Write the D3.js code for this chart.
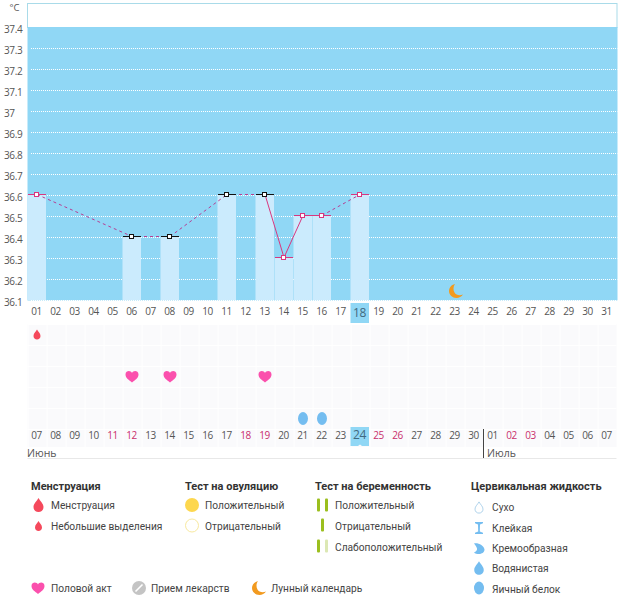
<!DOCTYPE html>
<html>
<head>
<meta charset="utf-8">
<script src="https://cdn.jsdelivr.net/npm/d3@7"></script>
<style>
    html, body { margin: 0; padding: 0; background: #fff; }
    svg { display: block; }
    .axis path, .axis line { display: none; }
    .axis text { font-family: 'Open Sans', sans-serif; font-size: 10px; letter-spacing: -0.35px; fill: #555; }
    .legend text { font-family: Roboto, sans-serif; font-size: 10.2px; fill: #444; }
    .legend text.head { font-weight: 700; font-size: 11px; fill: #333; }
</style>
</head>
<body>
<div id="chart"></div>
<script>
// chart data
var days = ['01','02','03','04','05','06','07','08','09','10','11','12','13','14','15','16','17','18','19','20','21','22','23','24','25','26','27','28','29','30','31'];
var lowerDays = ['07','08','09','10','11','12','13','14','15','16','17','18','19','20','21','22','23','24','25','26','27','28','29','30','01','02','03','04','05','06','07'];
var redLowerIdx = [4, 5, 11, 12, 18, 19, 25, 26];
var tempTicks = [37.4, 37.3, 37.2, 37.1, 37, 36.9, 36.8, 36.7, 36.6, 36.5, 36.4, 36.3, 36.2, 36.1];

var tempDays = ['01','06','08','11','13','14','15','16','18'];
var tempValues = [36.6, 36.4, 36.4, 36.6, 36.6, 36.3, 36.5, 36.5, 36.6];
var blackDays = ['06','08','11','13'];

var todayUpper = '18';
var moonDays = ['23'];
var spottingDays = ['01'];
var sexDays = ['06','08','13'];
var eggDays = ['15','16'];

var legendHeads = ['Менструация', 'Тест на овуляцию', 'Тест на беременность', 'Цервикальная жидкость'];
var legendMens = ['Менструация', 'Небольшие выделения'];
var legendOvul = ['Положительный', 'Отрицательный'];
var legendPreg = ['Положительный', 'Отрицательный', 'Слабоположительный'];
var legendFluid = ['Сухо', 'Клейкая', 'Кремообразная', 'Водянистая', 'Яичный белок'];
var legendBottom = ['Половой акт', 'Прием лекарств', 'Лунный календарь'];

var pink = '#d8377f';

// glyph shapes, centred on 0,0
var heartPath = 'M0,6 C-3,3.5 -6.5,1.5 -6.5,-2 C-6.5,-4.6 -4.6,-5.5 -3.2,-5.5 C-1.8,-5.5 -0.6,-4.8 0,-3.6 C0.6,-4.8 1.8,-5.5 3.2,-5.5 C4.6,-5.5 6.5,-4.6 6.5,-2 C6.5,1.5 3,3.5 0,6 Z';
var dropPath = 'M0,-7 C1.5,-4 5,-1.5 5,2 C5,5 2.8,7 0,7 C-2.8,7 -5,5 -5,2 C-5,-1.5 -1.5,-4 0,-7 Z';
var moonPath = 'M-1,-7 C-5,-6 -7,-3 -7,0 C-7,4 -3.5,7 0.5,7 C3,7 5.5,5.5 7,3.5 C3.5,5 0,4 -1.5,1.5 C-3,-1 -2.8,-4.5 -1,-7 Z';
var hourglassPath = 'M-4,-6 L4,-6 L4,-4.8 L1,-3.5 L0.8,3.5 L4,4.8 L4,6 L-4,6 L-4,4.8 L-0.8,3.5 L-1,-3.5 L-4,-4.8 Z';
var creamPath = 'M-5,-5 C-1,-6 5,-3 5.5,1 C5.5,4 2.5,5.5 0,5.5 C-2,5.5 -4,5 -5,4 C-3,3 -1.5,1.5 -2,0 C-2.5,-2 -4,-4 -5,-5 Z';

var width = 626, height = 595;

var svg = d3.select('#chart').append('svg')
    .attr('width', width)
    .attr('height', height);

var x = d3.scaleBand().domain(days).range([27.5, 616.5]);
var y = d3.scaleLinear().domain([36.1, 37.4]).range([300, 27]);
var plotTop = 3;
var xc = function(d) { return x(d) + x.bandwidth() / 2; };

// lower grid first, it sits behind labels
var lowerTop = 324, lowerBottom = 447;
var rows = d3.scaleBand().domain(['mens', 'b', 'sex', 'c', 'fluid', 'labels']).range([lowerTop, lowerTop + 126]);
var rowY = function(r) { return rows(r) + rows.bandwidth() / 2; };

var lower = svg.append('g');
lower.append('rect')
    .attr('x', x.range()[0])
    .attr('y', lowerTop)
    .attr('width', x.range()[1] - x.range()[0])
    .attr('height', lowerBottom - lowerTop)
    .attr('fill', '#fafafc');
lower.selectAll('line.v').data(days).enter().append('line')
    .attr('class', 'v')
    .attr('x1', function(d) { return x(d) + 0.5; })
    .attr('x2', function(d) { return x(d) + 0.5; })
    .attr('y1', lowerTop)
    .attr('y2', lowerBottom)
    .attr('stroke', '#fff');
lower.selectAll('line.h').data(rows.domain()).enter().append('line')
    .attr('class', 'h')
    .attr('x1', x.range()[0])
    .attr('x2', x.range()[1])
    .attr('y1', function(d) { return Math.round(rows(d)) + 0.5; })
    .attr('y2', function(d) { return Math.round(rows(d)) + 0.5; })
    .attr('stroke', '#fff');

// upper plot
svg.append('rect')
    .attr('x', x.range()[0])
    .attr('y', plotTop + 0.5)
    .attr('width', x.range()[1] - x.range()[0] + 0.5)
    .attr('height', y(37.4) - plotTop)
    .attr('fill', '#fff')
    .attr('stroke', '#a9dbe9');
svg.append('rect')
    .attr('x', x.range()[0])
    .attr('y', y(37.4))
    .attr('width', x.range()[1] - x.range()[0] + 1)
    .attr('height', y(36.1) - y(37.4) + 0.5)
    .attr('fill', '#90d7f5');

svg.selectAll('line.grid').data(tempTicks.slice(1)).enter().append('line')
    .attr('class', 'grid')
    .attr('x1', 31)
    .attr('x2', x.range()[1] + 1)
    .attr('y1', function(d) { return Math.round(y(d)) + 0.5; })
    .attr('y2', function(d) { return Math.round(y(d)) + 0.5; })
    .attr('stroke', '#fff')
    .attr('stroke-width', 1)
    .attr('stroke-dasharray', '1,1');

var points = tempDays.map(function(d, i) { return { day: d, value: tempValues[i] }; });

svg.selectAll('rect.bar').data(points).enter().append('rect')
    .attr('class', 'bar')
    .attr('x', function(d) { return x(d.day); })
    .attr('y', function(d) { return y(d.value); })
    .attr('width', x.bandwidth() - 0.5)
    .attr('height', function(d) { return y(36.1) - y(d.value); })
    .attr('fill', '#cbebfd')
    .attr('stroke', 'none');

// segments between measured days, dashed when days were skipped
var segments = d3.pairs(points);
svg.selectAll('line.seg').data(segments).enter().append('line')
    .attr('class', 'seg')
    .attr('x1', function(d) { return xc(d[0].day); })
    .attr('y1', function(d) { return y(d[0].value) - 0.5; })
    .attr('x2', function(d) { return xc(d[1].day); })
    .attr('y2', function(d) { return y(d[1].value) - 0.5; })
    .attr('stroke', function(d) { return adjacent(d) ? pink : '#b63f94'; })
    .attr('stroke-width', 1)
    .attr('stroke-dasharray', function(d) { return adjacent(d) ? null : '3,3'; });

function adjacent(d) {
    return days.indexOf(d[1].day) - days.indexOf(d[0].day) === 1;
}
function markColor(d) {
    return blackDays.indexOf(d.day) >= 0 ? '#111' : pink;
}

svg.selectAll('line.cap').data(points).enter().append('line')
    .attr('class', 'cap')
    .attr('x1', function(d) { return x(d.day); })
    .attr('x2', function(d) { return x(d.day) + x.bandwidth() - 0.5; })
    .attr('y1', function(d) { return Math.round(y(d.value)) - 0.5; })
    .attr('y2', function(d) { return Math.round(y(d.value)) - 0.5; })
    .attr('shape-rendering', 'crispEdges')
    .attr('stroke', markColor);

svg.selectAll('rect.mark').data(points).enter().append('rect')
    .attr('class', 'mark')
    .attr('x', function(d) { return Math.round(xc(d.day)) - 2.5; })
    .attr('y', function(d) { return Math.round(y(d.value)) - 2.5; })
    .attr('width', 4)
    .attr('height', 4)
    .attr('fill', '#fff')
    .attr('shape-rendering', 'crispEdges')
    .attr('stroke', markColor);

// moon sits just above the baseline
svg.selectAll('path.moon').data(moonDays).enter().append('path')
    .attr('class', 'moon')
    .attr('d', moonPath)
    .attr('fill', '#f29a1f')
    .attr('transform', function(d) { return 'translate(' + (xc(d) + 1) + ',' + (y(36.1) - 9) + ')'; });

// today highlights
svg.append('rect')
    .attr('x', x(todayUpper))
    .attr('y', 303)
    .attr('width', x.bandwidth() - 0.5)
    .attr('height', 20)
    .attr('fill', '#90d7f5');
svg.append('rect')
    .attr('x', x(todayUpper))
    .attr('y', 427)
    .attr('width', x.bandwidth() - 0.5)
    .attr('height', 19)
    .attr('fill', '#90d7f5');
svg.append('path')
    .attr('d', d3.line()([[xc(todayUpper) - 2, 446], [xc(todayUpper), 444.5], [xc(todayUpper) + 2, 446]]))
    .attr('fill', '#fafafc');

// axes
var yAxis = d3.axisLeft(y).tickValues(tempTicks).tickSize(0).tickFormat(function(d) { return String(d); });
svg.append('g').attr('class', 'axis y-axis')
    .call(yAxis)
    .selectAll('text')
    .attr('text-anchor', 'start')
    .attr('x', 4)
    .attr('dy', '0.55em');

svg.append('text')
    .attr('x', 9.5)
    .attr('y', 10.5)
    .attr('font-family', "'Open Sans', sans-serif")
    .attr('font-size', 9.5)
    .attr('fill', '#555')
    .text('°C');

var upperAxis = d3.axisBottom(x).tickSize(0).tickFormat(function(d) { return d; });
svg.append('g').attr('class', 'axis upper-axis')
    .attr('transform', 'translate(0,306)')
    .call(upperAxis)
    .selectAll('text')
    .attr('y', 2)
    .attr('dx', -0.5)
    .style('font-size', function(d) { return d === todayUpper ? '12px' : null; })
    .style('fill', function(d) { return d === todayUpper ? '#41697f' : null; });

var lowerAxis = d3.axisBottom(x).tickSize(0).tickFormat(function(d, i) { return lowerDays[i]; });
svg.append('g').attr('class', 'axis lower-axis')
    .attr('transform', 'translate(0,430)')
    .call(lowerAxis)
    .selectAll('text')
    .attr('y', function(d) { return d === todayUpper ? 0 : 2; })
    .attr('dx', -0.5)
    .style('font-size', function(d) { return d === todayUpper ? '12px' : null; })
    .style('fill', function(d, i) {
        if (d === todayUpper) return '#41697f';
        return redLowerIdx.indexOf(i) >= 0 ? '#c92f6c' : null;
    });

// month labels
var monthLine = svg.append('g');
monthLine.append('line')
    .attr('x1', x.range()[0])
    .attr('x2', x.range()[1])
    .attr('y1', 458.5)
    .attr('y2', 458.5)
    .attr('stroke', '#e8e8e8');
monthLine.append('line')
    .attr('x1', x('25'))
    .attr('x2', x('25'))
    .attr('y1', 429)
    .attr('y2', 458)
    .attr('stroke', '#444');
monthLine.selectAll('text').data([['Июнь', x('01') - 0.5], ['Июль', x('25') + 3.5]]).enter().append('text')
    .attr('x', function(d) { return d[1]; })
    .attr('y', 457)
    .attr('font-family', "'Open Sans', sans-serif")
    .attr('font-size', 10.5)
    .attr('fill', '#555')
    .text(function(d) { return d[0]; });

// event rows
svg.selectAll('path.spot').data(spottingDays).enter().append('path')
    .attr('class', 'spot')
    .attr('d', dropPath)
    .attr('fill', '#f5495c')
    .attr('transform', function(d) { return 'translate(' + (xc(d)) + ',' + rowY('mens') + ') scale(0.7)'; });
svg.selectAll('path.sex').data(sexDays).enter().append('path')
    .attr('class', 'sex')
    .attr('d', heartPath)
    .attr('fill', '#fb50ad')
    .attr('transform', function(d) { return 'translate(' + xc(d) + ',' + rowY('sex') + ')'; });
svg.selectAll('ellipse.egg').data(eggDays).enter().append('ellipse')
    .attr('class', 'egg')
    .attr('cx', function(d) { return xc(d); })
    .attr('cy', rowY('fluid'))
    .attr('rx', 5)
    .attr('ry', 6.5)
    .attr('fill', '#74bdf0');

// legend
var legend = svg.append('g').attr('class', 'legend');
var headX = [31, 185, 315, 471];
legend.selectAll('text.head').data(legendHeads).enter().append('text')
    .attr('class', 'head')
    .attr('x', function(d, i) { return headX[i]; })
    .attr('y', 490)
    .text(function(d) { return d; });

function legendText(labels, tx, ys) {
    legend.selectAll(null).data(labels).enter().append('text')
        .attr('x', tx)
        .attr('y', function(d, i) { return ys[i] + 4; })
        .text(function(d) { return d; });
}
function icon(path, color, cx, cy, scale) {
    return legend.append('path')
        .attr('d', path)
        .attr('fill', color)
        .attr('transform', 'translate(' + cx + ',' + cy + ') scale(' + (scale || 1) + ')');
}

legendText(legendMens, 51, [505, 526]);
legendText(legendOvul, 205, [505, 526]);
legendText(legendPreg, 335, [505, 526, 547]);
legendText(legendFluid, 492, [507, 528, 548, 568, 589]);
legendText(legendBottom.slice(0, 1), 51, [588]);
legendText(legendBottom.slice(1, 2), 151, [588]);
legendText(legendBottom.slice(2, 3), 271, [588]);

icon(dropPath, '#f5495c', 38.5, 505, 1);
icon(dropPath, '#f5495c', 38.5, 526, 0.7);

legend.append('circle').attr('cx', 192).attr('cy', 505).attr('r', 7).attr('fill', '#fdd74e');
legend.append('circle').attr('cx', 192).attr('cy', 525.5).attr('r', 6.5).attr('fill', '#fff').attr('stroke', '#f8e9a0');

var pregRows = [[505, '#9bbf1e', '#9bbf1e'], [525, '#9bbf1e', null], [546, '#9bbf1e', '#dce8b4']];
pregRows.forEach(function(r, i) {
    var barX = i === 1 ? [321] : [317, 325];
    barX.forEach(function(bx, j) {
        legend.append('rect')
            .attr('x', bx)
            .attr('y', r[0] - 6.5)
            .attr('width', 3)
            .attr('height', 13)
            .attr('rx', 1)
            .attr('fill', j === 0 ? r[1] : r[2]);
    });
});

legend.append('path').attr('d', dropPath).attr('fill', '#fff').attr('stroke', '#9cc8e6')
    .attr('transform', 'translate(479,507.5) scale(0.8)');
icon(hourglassPath, '#74bdf0', 479, 528, 1);
icon(creamPath, '#74bdf0', 479, 548.5, 1);
icon(dropPath, '#74bdf0', 479, 568, 0.95);
legend.append('ellipse').attr('cx', 479).attr('cy', 588).attr('rx', 5).attr('ry', 6.5).attr('fill', '#74bdf0');

icon(heartPath, '#fb50ad', 38, 588, 1);
legend.append('circle').attr('cx', 139).attr('cy', 588).attr('r', 7).attr('fill', '#c4c4c4');
legend.append('line').attr('x1', 135.5).attr('y1', 591.5).attr('x2', 142.5).attr('y2', 584.5)
    .attr('stroke', '#fff').attr('stroke-width', 1.6);
icon(moonPath, '#f29a1f', 259, 588, 1);
</script>
</body>
</html>
